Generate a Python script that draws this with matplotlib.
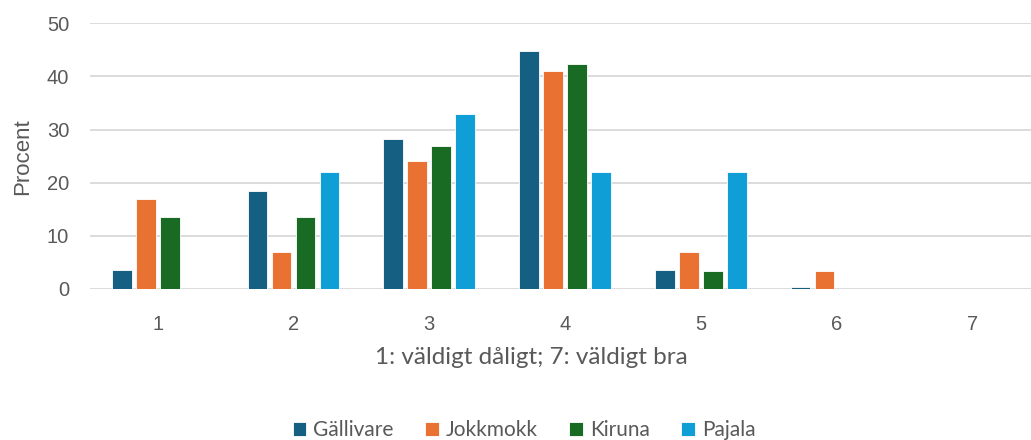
import numpy as np
import matplotlib
matplotlib.use("Agg")
import matplotlib.pyplot as plt

categories = ["1", "2", "3", "4", "5", "6", "7"]
series = ["Gällivare", "Jokkmokk", "Kiruna", "Pajala"]
gallivare = [3.5, 18.5, 28.3, 44.7, 3.5, 0.4, 0]
jokkmokk = [17.0, 6.9, 24.1, 41.1, 6.9, 3.4, 0]
kiruna = [13.5, 13.5, 26.9, 42.3, 3.3, 0, 0]
pajala = [0, 22.1, 33.0, 22.1, 22.1, 0, 0]
colors = ["#156082", "#E97132", "#196B24", "#0F9ED5"]

values = [gallivare, jokkmokk, kiruna, pajala]

fig = plt.figure(figsize=(10.31, 4.4), dpi=100)
ax = fig.add_axes([90/1031, (440-289)/440, (1040-90)/1031, (289-23.3)/440])

x = np.arange(len(categories))
slot = 0.177
width = 0.145
for i, (name, vals) in enumerate(zip(series, values)):
    ax.bar(x + (i - 1.5) * slot, vals, width=width, color=colors[i],
           edgecolor="white", linewidth=0.6, label=name, zorder=3)

ax.set_xlim(-0.5, 6.5)
ax.set_ylim(0, 50)
ax.set_yticks(range(0, 51, 10))
ax.set_xticks(x)
ax.set_xticklabels(categories)
ax.grid(axis="y", color="#D9D9D9", linewidth=1.3, zorder=0)
for s in ax.spines.values():
    s.set_visible(False)
ax.tick_params(axis="both", length=0, labelsize=14.5, labelcolor="#595959")
ax.tick_params(axis="x", pad=19)
ax.tick_params(axis="y", pad=15)
for lab in ax.get_xticklabels() + ax.get_yticklabels():
    lab.set_family("Liberation Sans")

ax.set_ylabel("Procent", fontsize=16, color="#595959", family="Liberation Sans", labelpad=10)
fig.text(531/1031, 1 - 357/440, "1: väldigt dåligt; 7: väldigt bra", ha="center", va="center",
         fontsize=17.5, color="#595959", family="Lato")

leg = fig.legend(loc="center", bbox_to_anchor=(524/1031, 1 - 430/440), ncol=4, frameon=False,
                 handlelength=0.65, handleheight=0.65, handletextpad=0.35,
                 columnspacing=1.5, prop={"family": "Lato", "size": 15})
for t in leg.get_texts():
    t.set_color("#595959")

fig.savefig("out.png", dpi=100)
